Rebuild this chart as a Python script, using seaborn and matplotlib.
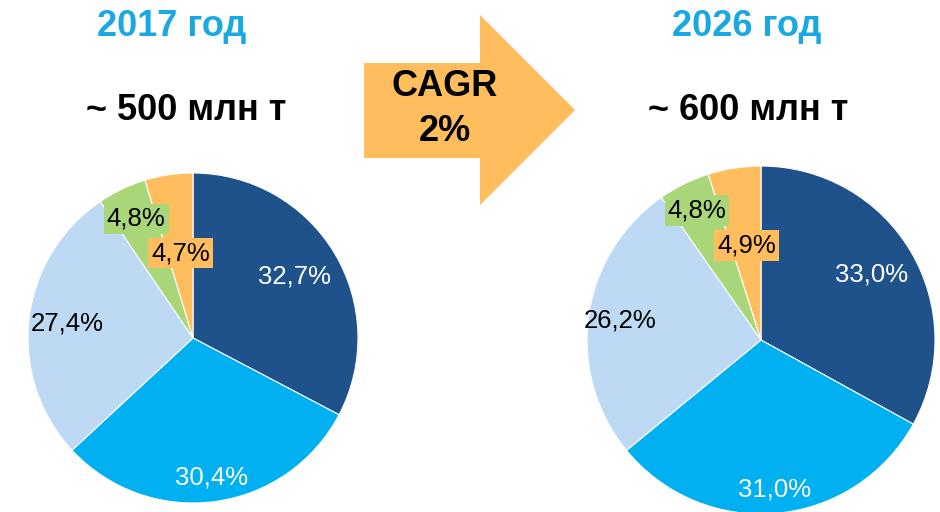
import matplotlib
matplotlib.use("Agg")
import matplotlib.pyplot as plt
from matplotlib.patches import Polygon
import seaborn as sns
import numpy as np

sns.set_theme(style="white")
plt.rcParams['font.family'] = ['Liberation Sans', 'DejaVu Sans']

# Data
segments = ["seg1", "seg2", "seg3", "seg4", "seg5"]
share_2017 = [32.7, 30.4, 27.4, 4.8, 4.7]
share_2026 = [33.0, 31.0, 26.2, 4.8, 4.9]
labels_2017 = ["32,7%", "30,4%", "27,4%", "4,8%", "4,7%"]
labels_2026 = ["33,0%", "31,0%", "26,2%", "4,8%", "4,9%"]
titles = ["2017 год", "2026 год"]
volumes = ["~ 500 млн т", "~ 600 млн т"]
cagr_text = "CAGR\n2%"

colors = ["#1F518B", "#00B0F0", "#BDD9F4", "#A8D679", "#FFBD5E"]
text_colors = ["white", "white", "black", "black", "black"]
boxed = [False, False, False, True, True]

W, H = 940, 512
fig = plt.figure(figsize=(W / 100, H / 100), dpi=100)


def px_axes(cx, cy, r):
    return fig.add_axes([(cx - r) / W, (H - cy - r) / H, 2 * r / W, 2 * r / H])


def draw_pie(ax, values, labels, dists):
    wedges, _ = ax.pie(values, colors=colors, startangle=90, counterclock=False,
                       wedgeprops=dict(edgecolor="white", linewidth=0.8))
    for w, lab, d, tc, bx in zip(wedges, labels, dists, text_colors, boxed):
        ang = np.deg2rad((w.theta1 + w.theta2) / 2)
        x, y = d * np.cos(ang), d * np.sin(ang)
        kw = {}
        if bx:
            kw["bbox"] = dict(boxstyle="square,pad=0.12", facecolor=w.get_facecolor(),
                              edgecolor="none")
        ax.text(x, y, lab, ha="center", va="center", fontsize=18.5, color=tc, **kw)
    ax.set_xlim(-1, 1)
    ax.set_ylim(-1, 1)
    ax.set_aspect("equal")
    ax.axis("off")


ax1 = px_axes(193, 338, 165)
draw_pie(ax1, share_2017, labels_2017, [0.72, 0.85, 0.77, 0.80, 0.52])
ax2 = px_axes(761, 340, 174)
draw_pie(ax2, share_2026, labels_2026, [0.74, 0.86, 0.82, 0.83, 0.55])

title_color = "#1AA8E2"
for (tx, vx), t, v in zip([(172, 186), (747, 748)], titles, volumes):
    fig.text(tx / W, 1 - 26 / H, t, ha="center", va="center", fontsize=26,
             fontweight="bold", color=title_color)
    fig.text(vx / W, 1 - 110 / H, v, ha="center", va="center", fontsize=26,
             fontweight="bold", color="black")

# Arrow
pts = [(364, 63), (480, 63), (480, 15), (575, 110), (480, 205), (480, 158), (364, 158)]
arrow = Polygon([(x / W, 1 - y / H) for x, y in pts], closed=True,
                transform=fig.transFigure, facecolor="#FFBD5E", edgecolor="none")
fig.patches.append(arrow)
fig.text(445 / W, 1 - 109 / H, cagr_text, ha="center", va="center", fontsize=26,
         fontweight="bold", color="black", linespacing=1.35)

fig.savefig("out.png", dpi=100, facecolor="white")
